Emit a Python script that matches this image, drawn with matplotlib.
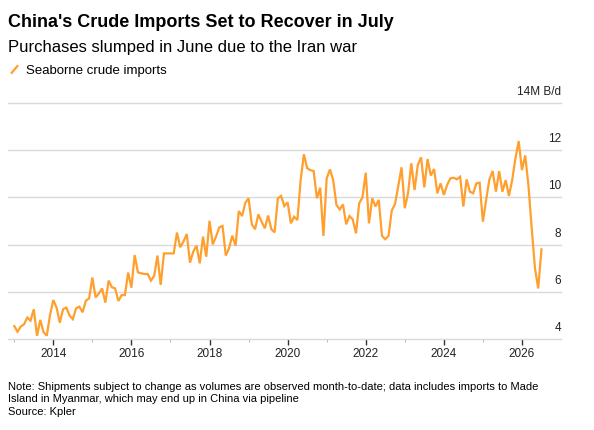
import numpy as np
import matplotlib
matplotlib.use("Agg")
import matplotlib.pyplot as plt
from matplotlib.lines import Line2D

plt.rcParams['font.family'] = ['Liberation Sans', 'DejaVu Sans']

# Monthly seaborne crude imports, million barrels/day (Jan 2013 - Jul 2026)
start_year = 2013
imports = [
    # 2013
    4.56, 4.32, 4.54, 4.63, 4.92, 4.79, 5.27, 4.15, 4.82, 4.30, 4.15, 5.03,
    # 2014
    5.66, 5.34, 4.70, 5.27, 5.34, 5.00, 4.85, 5.31, 5.38, 5.14, 5.63, 5.73,
    # 2015
    6.61, 5.77, 5.94, 6.15, 5.55, 6.48, 6.20, 6.15, 5.62, 5.87, 5.87, 6.82,
    # 2016
    6.18, 7.56, 6.83, 6.79, 6.76, 6.76, 6.48, 6.68, 7.54, 6.30, 7.63, 7.63,
    # 2017
    7.63, 7.63, 8.51, 7.89, 8.13, 8.45, 7.24, 7.70, 7.96, 7.21, 8.34, 7.49,
    # 2018
    9.01, 8.01, 8.34, 8.73, 8.79, 7.54, 7.85, 8.38, 7.96, 9.42, 9.21, 9.77,
    # 2019
    9.96, 8.86, 8.65, 9.28, 8.97, 8.69, 9.23, 8.65, 8.52, 9.96, 10.06, 9.63,
    # 2020
    9.79, 8.90, 9.18, 9.04, 10.73, 11.82, 11.23, 11.15, 11.11, 9.96, 10.41, 8.37,
    # 2021
    10.80, 11.18, 10.73, 9.68, 9.49, 9.70, 8.86, 9.21, 9.07, 8.48, 9.75, 10.00,
    # 2022
    11.04, 8.90, 9.96, 9.61, 9.89, 8.37, 8.23, 8.37, 9.44, 9.72, 10.48, 11.27,
    # 2023
    9.54, 10.17, 11.44, 10.31, 11.37, 11.69, 10.42, 11.62, 10.92, 11.20, 10.17, 10.59,
    # 2024
    10.10, 10.52, 10.80, 10.83, 10.76, 10.87, 9.61, 10.76, 10.24, 10.17, 10.59, 10.62,
    # 2025
    8.97, 9.89, 10.76, 11.11, 10.24, 11.11, 10.24, 10.73, 10.06, 10.73, 11.65, 12.38,
    # 2026
    11.15, 11.77, 10.50, 8.70, 7.00, 6.15, 7.80,
]
dates = start_year + np.arange(len(imports)) / 12.0

y_ticks = [4, 6, 8, 10, 12, 14]
y_labels = ["4", "6", "8", "10", "12", "14M B/d"]
year_ticks = [2014, 2016, 2018, 2020, 2022, 2024, 2026]
minor_years = [2013, 2015, 2017, 2019, 2021, 2023, 2025]

ORANGE = "#FF9F2E"
GRID = "#D9D9D9"

fig = plt.figure(figsize=(5.94, 4.30), dpi=100)
ax = fig.add_axes([8 / 594, 1 - 339.3 / 430, 553 / 594, (339.3 - 102.7) / 430])

ax.plot(dates, imports, color=ORANGE, lw=1.6, solid_joinstyle="miter", zorder=3)

ax.set_xlim(2012.84, 2027.0)
ax.set_ylim(4, 14)

for s in ax.spines.values():
    s.set_visible(False)

ax.set_yticks(y_ticks)
ax.yaxis.grid(True, color=GRID, lw=1.0)
for gl in ax.get_ygridlines():
    gl.set_clip_on(False)
ax.tick_params(axis="y", length=0, labelleft=False)
for v, lab in zip(y_ticks, y_labels):
    ax.annotate(lab, xy=(1, v), xycoords=ax.get_yaxis_transform(),
                xytext=(0, 3.5), textcoords="offset points",
                ha="right", va="bottom", fontsize=8.5, color="#222222")

ax.set_xticks(year_ticks)
ax.set_xticklabels([str(y) for y in year_ticks])
ax.set_xticks(minor_years, minor=True)
ax.tick_params(axis="x", which="major", length=4.5, width=1.0, color="#333333",
               labelsize=8.5, labelcolor="#222222", pad=2)
ax.tick_params(axis="x", which="minor", length=2.5, width=0.8, color="#BBBBBB")

# header
fig.text(8 / 594, 1 - 27 / 430, "China's Crude Imports Set to Recover in July",
         fontsize=13, fontweight="bold", ha="left", va="baseline", color="black")
fig.text(8 / 594, 1 - 52 / 430, "Purchases slumped in June due to the Iran war",
         fontsize=12, ha="left", va="baseline", color="black")

handle = Line2D([], [], color=ORANGE, marker=(2, 0, -40), linestyle="none",
                markersize=8, markeredgewidth=1.6)
fig.legend([handle], ["Seaborne crude imports"], loc="center left",
           bbox_to_anchor=(1 / 594, 1 - 70.5 / 430), frameon=False,
           fontsize=9.5, handlelength=1.0, handletextpad=0.4, borderpad=0)

# footer
foot = [
    "Note: Shipments subject to change as volumes are observed month-to-date; data includes imports to Made",
    "Island in Myanmar, which may end up in China via pipeline",
    "Source: Kpler",
]
for i, line in enumerate(foot):
    fig.text(8 / 594, 1 - (389.5 + 12.8 * i) / 430, line, fontsize=8,
             ha="left", va="baseline", color="black")

fig.savefig("out.png", dpi=100, facecolor="white")
